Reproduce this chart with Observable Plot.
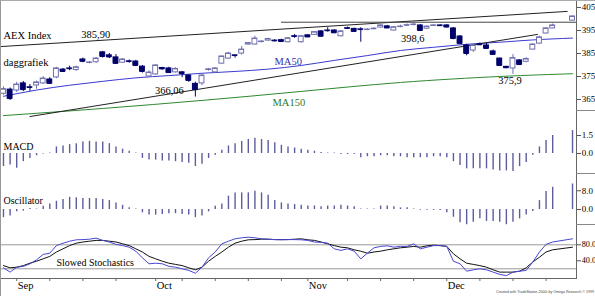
<!DOCTYPE html>
<html><head><meta charset="utf-8">
<script src="https://cdn.jsdelivr.net/npm/d3@7"></script>
<script src="https://cdn.jsdelivr.net/npm/@observablehq/plot@0.6"></script>
<style>
body{margin:0;background:#fff}
#chart{position:relative;width:595px;height:296px;overflow:hidden;font-family:"Liberation Serif",serif;background:#fff}
#chart svg{position:absolute;left:0;overflow:visible;background:transparent}
.sep{position:absolute;left:576px;width:19px;height:0;border-top:1px solid #888}
#border{position:absolute;left:0;top:0;width:595px;height:296px;box-sizing:border-box;border-left:1px solid #999;border-top:1px solid #aaa;pointer-events:none}
#footer{position:absolute;right:1px;bottom:2px;font-family:"Liberation Sans",sans-serif;font-size:3.6px;color:#444;white-space:nowrap}
</style></head><body><div id="chart"></div>
<script>
// ---- data (slot = trading-day index, 84/85 = Christmas holidays) ----
const open = [367.5,369.3,368.9,372.0,370.3,371.1,372.0,373.7,374.6,378.0,378.5,377.8,382.4,381.0,381.2,385.5,384.2,383.3,381.0,381.6,381.5,379.3,375.0,375.9,378.7,378.5,376.8,376.8,375.4,371.8,372.0,377.9,376.8,380.6,382.8,384.2,385.0,388.9,388.9,390.0,390.6,390.6,390.8,389.9,392.5,389.9,392.9,393.1,394.6,395.0,395.0,392.5,396.0,395.7,395.5,395.3,395.6,396.3,396.8,395.0,396.6,397.2,397.5,397.2,395.8,397.1,397.2,397.2,395.9,392.4,388.5,386.3,389.0,388.5,385.9,382.8,379.2,378.5,382.0,381.4,386.7,389.3,393.7,395.9,null,null,399.3];
const high = [370.5,370.0,372.5,372.8,371.5,373.0,375.0,374.5,379.0,378.5,379.5,379.5,383.0,381.5,383.3,385.9,385.0,384.5,382.8,382.2,382.0,379.8,377.5,380.2,379.0,379.0,378.8,377.2,375.8,372.5,376.0,378.5,378.8,384.0,385.5,384.3,388.0,389.8,392.5,390.5,391.6,391.0,391.2,392.0,393.3,392.8,393.2,394.6,395.0,396.2,395.4,395.0,396.5,396.0,396.2,395.8,396.2,397.5,397.2,396.8,397.3,397.8,398.6,397.6,397.0,397.5,397.5,397.6,396.3,392.8,389.0,389.0,389.6,389.5,386.5,383.0,379.4,384.5,382.3,383.2,389.2,392.5,396.2,397.8,null,null,401.4];
const low = [366.8,364.6,368.0,368.5,368.5,369.5,371.5,371.5,374.0,376.8,377.5,377.3,381.0,380.5,380.8,383.0,382.8,380.3,380.8,380.8,379.3,376.5,374.6,375.5,377.8,376.3,376.5,374.5,372.5,366.06,371.0,377.3,376.5,380.3,382.5,383.0,384.3,388.7,388.7,389.6,390.3,390.0,389.9,389.6,391.6,389.5,392.0,392.8,392.2,394.3,393.7,392.2,395.5,394.3,389.9,395.0,395.3,396.0,395.9,394.7,396.2,396.8,397.0,394.7,395.5,396.8,396.8,396.2,391.0,388.9,384.0,385.5,388.5,387.0,384.3,379.5,378.5,375.9,380.0,381.0,386.5,389.0,393.5,395.8,null,null,399.0];
const close = [369.5,365.4,371.5,369.3,370.2,372.4,374.1,372.0,378.5,377.2,378.4,379.0,381.6,381.1,382.8,383.7,383.5,380.7,382.4,381.5,379.8,377.2,376.7,379.8,378.3,376.7,378.3,376.3,373.3,369.3,375.4,378.1,378.5,383.7,385.0,384.1,386.7,389.5,391.5,390.2,391.3,390.5,390.2,391.6,392.4,392.5,392.2,394.3,392.5,394.9,394.0,394.6,395.9,394.6,395.4,395.4,395.8,397.2,396.1,396.4,396.7,397.3,397.6,395.0,396.7,397.2,397.1,396.5,391.5,389.3,385.0,388.5,388.8,387.2,384.6,379.8,378.8,383.0,380.2,382.6,388.9,392.0,395.9,397.2,null,null,401.1];

const ma50Slots  = [0,5,10,15,20,25,30,35,40,45,50,55,60,65,70,75,80,86];
const ma50Values = [366.4,369.1,371.2,372.9,374.4,375.4,376.4,377.2,378.2,379.8,382.0,384.1,386.3,387.7,389.0,389.9,390.9,391.7];
const ma150Slots  = [0,15,30,45,60,75,86];
const ma150Values = [358.0,361.1,364.6,368.5,372.4,375.0,376.2];

const upperLineSlots = [-0.45,85.2], upperLinePrices = [388.0,403.3];
const lowerLineSlots = [4,80.7],     lowerLinePrices = [357.6,393.3];
const resistSlots    = [42,86.5],    resistPrices    = [398.6,398.6];

const macd = [-1.09,-0.96,-1.23,-0.68,-0.41,-0.19,-0.05,0.05,0.55,0.63,0.74,0.82,0.96,1.01,0.96,0.96,0.82,0.55,0.36,0.19,0.05,-0.41,-0.55,-0.55,-0.63,-0.63,-0.68,-0.74,-0.82,-1.09,-0.9,-0.41,-0.14,0.27,0.63,0.82,1.01,1.17,1.28,1.17,1.09,0.9,0.68,0.55,0.46,0.36,0.27,0.19,0.08,0.04,0.04,-0.08,-0.08,-0.08,-0.35,-0.27,-0.27,-0.19,-0.19,-0.27,-0.27,-0.35,-0.35,-0.35,-0.35,-0.27,-0.27,-0.35,-0.68,-1.01,-1.28,-1.28,-1.28,-1.28,-1.37,-1.45,-1.45,-1.5,-1.09,-0.74,-0.14,0.55,1.09,1.5,null,null,1.91];
const osc = [-3.5,-2.8,-1.0,-0.7,0.4,0.2,1.4,2.4,3.5,4.3,5.2,5.0,4.7,4.7,4.7,4.3,3.8,2.8,1.8,0.7,0.2,-1.4,-2.4,-2.4,-2.1,-1.8,-1.8,-2.1,-2.4,-3.5,-2.8,-1.0,1.4,2.4,5.7,7.1,7.1,7.1,7.8,7.1,6.1,3.8,2.8,2.4,2.1,1.8,1.5,1.5,1.2,1.5,1.5,1.8,1.5,1.2,0.2,0.2,0.2,1.5,1.5,1.2,0.7,0.7,0.2,-0.3,-0.3,-0.4,-0.4,-1.4,-3.3,-5.7,-6.5,-5.4,-4.0,-5.1,-5.1,-5.4,-6.5,-5.4,-4.0,-2.3,-0.85,3.8,7.7,9.5,null,null,10.9];
const stochK = [22.5,11.7,24,26,32.5,42.5,56,59,78,84,89,92.5,93,94,96.7,91,87,81,78,74,64,47.5,32.5,34,32.5,26,24,20,16,9,24,47.5,62,82.5,89,95,97.5,99,97.5,95,94,93,92.5,93,93,92.5,91,87,86,84,70,66,70,64,45,59,72.5,76,77.5,74,76,76,82.5,70,74,78,78,76,39,32.5,14,17.5,20,17.5,11.7,6,3,11.7,14,16,37,62,81,87,null,null,95];
const stochD = [28,22.5,24,28,34,39,45,51,62,70,78,84,87,89,91,91,89,87,82.5,78,70,62,51,45,39,34,31,28,22.5,17.5,24,39,51,62,74,84,89,92.5,93,94,94,93,93,93,94,95,92.5,91,87,82.5,78,74,72.5,67.5,64,59,62,64,67.5,70,72.5,74,76,74,77.5,79,78,76,57.5,45,34,31,28,24,17.5,11.7,11.7,11.7,14,22.5,37,49,62,67.5,null,null,74];

const priceTicks = [365,375,385,395,405];
const macdTicks = [0,1.5];
const oscTicks = [0,8];
const stochTicks = [40,80];
const stochLevels = [20,80];
const weekTickSlots = [2,7,12,17,23,27,32,37,42,46,52,57,62,67,72,77,82];
const monthSlots = [2,23,46,67];
const monthLabels = ["Sep","Oct","Nov","Dec"];
const extremeLabels = ["385,90","366,06","398,6","375,9"];

// ---- derived tables ----
const candles = close.map((c,i) => c == null ? null : {i, o: open[i], h: high[i], l: low[i], c}).filter(Boolean);
const ups = candles.filter(d => d.c >= d.o), downs = candles.filter(d => d.c < d.o);
const series = (arr) => arr.map((v,i) => v == null ? null : {i, v}).filter(Boolean);
const pairs = (xs, ys) => xs.map((x,k) => ({i: x, v: ys[k]}));

const NAVY = "#00006a", HOLLOW = "#6f6fae", BARC = "#5c5c9e", W = 0.37;
const X = {domain: [-0.45, 86.6], axis: null, label: null};
const base = {width: 595, marginLeft: 0, marginRight: 19, style: {fontFamily: "Liberation Serif, serif", fontSize: "10px", background: "transparent", overflow: "visible"}};
const fmt1 = d3.format(".1f");
const axisR = (ticks, f, fs = 9) => Plot.axisY({anchor: "right", ticks, tickSize: 4, tickPadding: 1.2, tickFormat: f, label: null, fontSize: fs, textAnchor: "start", stroke: "#555"});
const lbl = (t, dx, dy, extra = {}) => Plot.text([t], {frameAnchor: "top-left", lineAnchor: "middle", dx, dy, textAnchor: "start", fontSize: 10.5, ...extra});

// extremes for labels
const hiIdx1 = d3.maxIndex(high.slice(0, 25));
const loIdx1 = 20 + d3.minIndex(low.slice(20, 35));
const hiIdx2 = 55 + d3.maxIndex(high.slice(55, 70));
const loIdx2 = 70 + d3.minIndex(low.slice(70, 84));

const price = Plot.plot({
  ...base, height: 110, marginTop: 0, marginBottom: 0,
  x: X, y: {domain: [405 - 103/2.3, 405 + 7/2.3], label: null},
  marks: [
    Plot.line(pairs(ma150Slots, ma150Values), {x: "i", y: "v", stroke: "#2d8a2d", strokeWidth: 1, curve: "natural"}),
    Plot.line(pairs(ma50Slots, ma50Values), {x: "i", y: "v", stroke: "#3a3ad0", strokeWidth: 1, curve: "natural"}),
    Plot.line(pairs(upperLineSlots, upperLinePrices), {x: "i", y: "v", stroke: "#222", strokeWidth: 1}),
    Plot.line(pairs(lowerLineSlots, lowerLinePrices), {x: "i", y: "v", stroke: "#222", strokeWidth: 1}),
    Plot.line(pairs(resistSlots, resistPrices), {x: "i", y: "v", stroke: "#444", strokeWidth: 1}),
    Plot.ruleX(ups, {x: "i", y1: "l", y2: "h", stroke: HOLLOW}),
    Plot.ruleX(downs, {x: "i", y1: "l", y2: "h", stroke: NAVY}),
    Plot.rect(ups, {x1: d => d.i - W, x2: d => d.i + W, y1: "o", y2: "c", fill: "white", stroke: HOLLOW}),
    Plot.rect(downs, {x1: d => d.i - W, x2: d => d.i + W, y1: "o", y2: "c", fill: NAVY, stroke: NAVY}),
    Plot.ruleY(ups, {y: "c", x1: d => d.i - W, x2: d => d.i + W, stroke: HOLLOW}),
    Plot.ruleY(downs, {y: "c", x1: d => d.i - W, x2: d => d.i + W, stroke: NAVY}),
    Plot.text([extremeLabels[0]], {x: hiIdx1, y: high[hiIdx1], dx: -7, dy: -17, fontSize: 10.5}),
    Plot.text([extremeLabels[1]], {x: loIdx1, y: low[loIdx1], dx: -26, dy: -6, fontSize: 10.5}),
    Plot.text([extremeLabels[2]], {x: hiIdx2, y: high[hiIdx2], dx: -1, dy: 16.5, fontSize: 10.5}),
    Plot.text([extremeLabels[3]], {x: loIdx2, y: low[loIdx2], dx: -3, dy: 6.5, fontSize: 10.5}),
    lbl("MA50", 274, 61, {fill: "#3333aa"}),
    lbl("MA150", 272, 102, {fill: "#2a7a2a"}),
    lbl("AEX Index", 3, 35),
    lbl("daggrafiek", 3, 62),
    axisR(priceTicks, d3.format("d")),
    Plot.frame({anchor: "right", stroke: "#666"})
  ]
});

const macdPlot = Plot.plot({
  ...base, height: 63, marginTop: 0, marginBottom: 0,
  x: X, y: {domain: [-20/12, 43/12], label: null},
  marks: [
    Plot.ruleX(series(macd), {x: "i", y1: 0, y2: "v", stroke: BARC, strokeWidth: 1.4}),
    lbl("MACD", 3, 36, {fontSize: 10}),
    axisR(macdTicks, fmt1),
    Plot.frame({anchor: "right", stroke: "#666"})
  ]
});

const oscPlot = Plot.plot({
  ...base, height: 51, marginTop: 0, marginBottom: 0,
  x: X, y: {domain: [-15/2.34, 36/2.34], label: null},
  marks: [
    Plot.ruleX(series(osc), {x: "i", y1: 0, y2: "v", stroke: BARC, strokeWidth: 1.4}),
    lbl("Oscillator", 3, 27, {fontSize: 10}),
    axisR(oscTicks, fmt1),
    Plot.frame({anchor: "right", stroke: "#666"})
  ]
});

const stochPlot = Plot.plot({
  ...base, height: 72, marginTop: 0, marginBottom: 18,
  x: {domain: X.domain, label: null}, y: {domain: [-1.7/0.4, 52.3/0.4], axis: null, label: null},
  marks: [
    Plot.ruleY(stochLevels, {stroke: "#999"}),
    Plot.line(series(stochD), {x: "i", y: "v", stroke: "#111", strokeWidth: 1}),
    Plot.line(series(stochK), {x: "i", y: "v", stroke: "#4646d2", strokeWidth: 1}),
    lbl("Slowed Stochastics", 56, 38, {fontSize: 10}),
    axisR(stochTicks, fmt1, 8.2),
    Plot.axisX({anchor: "bottom", ticks: weekTickSlots, tickSize: 3, tickFormat: () => "", label: null, stroke: "#666"}),
    Plot.text(monthSlots, {x: d => d, text: (d, k) => monthLabels[k], frameAnchor: "bottom", lineAnchor: "middle", dy: 7.5, dx: 1, textAnchor: "start", fontSize: 10.5}),
    Plot.frame({anchor: "bottom", stroke: "#666"}),
    Plot.frame({anchor: "right", stroke: "#666"})
  ]
});

const chart = document.getElementById("chart");
[[price, 0], [macdPlot, 110], [oscPlot, 173], [stochPlot, 224]].forEach(([svg, top]) => {
  svg.style.top = top + "px";
  chart.appendChild(svg);
});
[110, 173, 224].forEach(t => {
  const s = document.createElement("div"); s.className = "sep"; s.style.top = t + "px"; chart.appendChild(s);
});
const b = document.createElement("div"); b.id = "border"; chart.appendChild(b);
const f = document.createElement("div"); f.id = "footer";
f.textContent = "Created with TradeStation 2000i by Omega Research \u00a9 1999";
chart.appendChild(f);
</script></body></html>
